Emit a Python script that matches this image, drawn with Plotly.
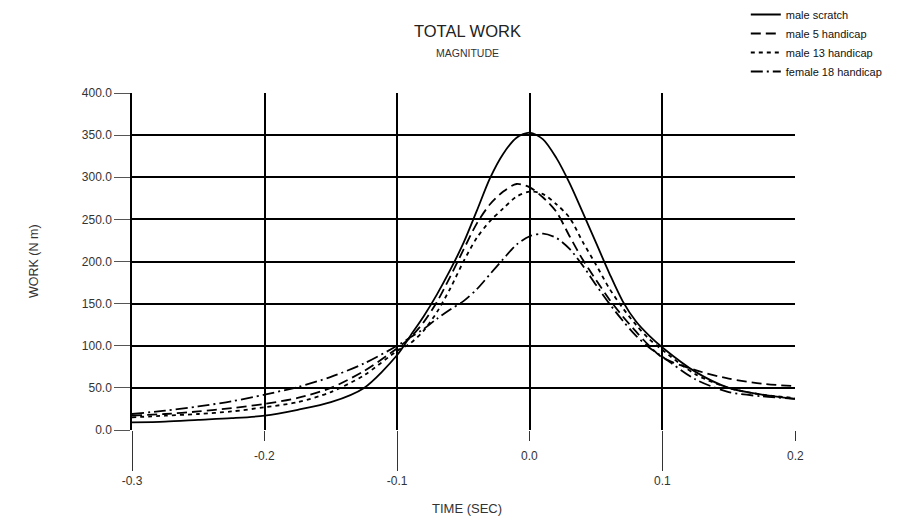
import plotly.graph_objects as go

time = [-0.3, -0.275, -0.25, -0.225, -0.2, -0.175, -0.15, -0.125, -0.1, -0.09, -0.08,
        -0.07, -0.06, -0.05, -0.04, -0.03, -0.02, -0.01, 0.0, 0.01, 0.02, 0.03, 0.04,
        0.05, 0.06, 0.07, 0.08, 0.09, 0.1, 0.125, 0.15, 0.175, 0.2]

male_scratch = [9, 10, 12, 14, 17, 24, 33, 50, 89, 112, 135, 161, 190, 222, 260, 299, 328,
                347, 353, 345, 323, 293, 258, 222, 186, 153, 129, 112, 98, 69, 50, 42, 37]
male_5 = [17, 19, 22, 26, 31, 38, 50, 70, 97, 110, 128, 152, 182, 214, 245, 268, 283,
          292, 288, 276, 259, 230, 202, 178, 155, 135, 117, 100, 86, 71, 61, 55, 52]
male_13 = [15, 17, 19, 22, 27, 33, 45, 65, 94, 103, 118, 140, 168, 200, 228, 248, 263,
           277, 283, 280, 268, 252, 223, 196, 168, 145, 125, 108, 95, 66, 50, 42, 38]
female_18 = [19, 23, 28, 34, 42, 51, 63, 79, 100, 110, 120, 132, 143, 153, 167, 185, 203,
             220, 230, 233, 228, 215, 195, 172, 150, 130, 112, 98, 87, 60, 45, 40, 37]

series_names = ["male scratch", "male 5 handicap", "male 13 handicap", "female 18 handicap"]
series_dash = ["solid", "10px,5px", "4px,4px", "12px,4px,2px,4px"]

y_ticks = [0, 50, 100, 150, 200, 250, 300, 350, 400]
x_long_ticks = [-0.3, -0.1, 0.1]
x_short_ticks = [-0.2, 0.0, 0.2]
x_short_labels = ["-0.2", "0.0", "0.2"]
x_long_labels = ["-0.3", "-0.1", "0.1"]

FONT = "Liberation Sans, Arial, sans-serif"

fig = go.Figure()
for name, vals, dash in zip(series_names, [male_scratch, male_5, male_13, female_18], series_dash):
    fig.add_trace(go.Scatter(
        x=time, y=vals, mode="lines", name=name,
        line=dict(color="black", width=1.8, dash=dash, shape="spline", smoothing=0.8),
    ))

fig.update_layout(
    width=904, height=524,
    margin=dict(l=131.5, r=109, t=92.5, b=94, autoexpand=False),
    paper_bgcolor="white", plot_bgcolor="white",
    font=dict(family=FONT, color="#222", size=11),
    showlegend=True,
    legend=dict(
        xref="container", yref="container",
        x=0.825, y=1.0, xanchor="left", yanchor="top",
        font=dict(family=FONT, size=11, color="#111"),
        bgcolor="rgba(0,0,0,0)", tracegroupgap=0,
    ),
    xaxis=dict(
        range=[-0.3, 0.2], tickmode="array", tickvals=x_long_ticks, ticktext=x_long_labels,
        ticks="outside", ticklen=40, tickwidth=1, tickcolor="#333",
        showgrid=True, gridcolor="black", gridwidth=1.5,
        zeroline=False, showline=False, automargin=False,
        tickfont=dict(size=12, color="#333"),
        minor=dict(tickmode="array", tickvals=x_short_ticks, ticks="outside", ticklen=10,
                   tickwidth=1, tickcolor="#333", showgrid=True, gridcolor="black", gridwidth=1.5),
    ),
    yaxis=dict(
        range=[0, 400], tickmode="array", tickvals=y_ticks, tickformat=".1f",
        ticks="outside", ticklen=16, tickwidth=1, tickcolor="#555",
        showgrid=True, gridcolor="black", gridwidth=1.5,
        zeroline=False, showline=True, linecolor="black", linewidth=1.5, automargin=False,
        tickfont=dict(size=12, color="#333"),
    ),
)

for xv, lab in zip(x_short_ticks, x_short_labels):
    fig.add_annotation(x=xv, xref="x", y=-0.078, yref="paper", text=lab, showarrow=False,
                       xanchor="center", yanchor="middle", font=dict(size=12, color="#333"))

fig.add_annotation(x=0.5057, y=1.185, xref="paper", yref="paper", text="TOTAL WORK",
                   showarrow=False, font=dict(size=16.5, color="#222"), xanchor="center", yanchor="middle")
fig.add_annotation(x=0.5057, y=1.12, xref="paper", yref="paper", text="MAGNITUDE",
                   showarrow=False, font=dict(size=10.5, color="#333"), xanchor="center", yanchor="middle")
fig.add_annotation(x=-0.1485, y=0.5, xref="paper", yref="paper", text="WORK (N m)", textangle=-90,
                   showarrow=False, font=dict(size=12.5, color="#333"), xanchor="center", yanchor="middle")
fig.add_annotation(x=0.5057, y=-0.234, xref="paper", yref="paper", text="TIME (SEC)",
                   showarrow=False, font=dict(size=13, color="#333"), xanchor="center", yanchor="middle")

fig.write_html("out.html", config={"displayModeBar": False},
               post_script="document.body.style.margin='0';document.body.style.padding='0';")
